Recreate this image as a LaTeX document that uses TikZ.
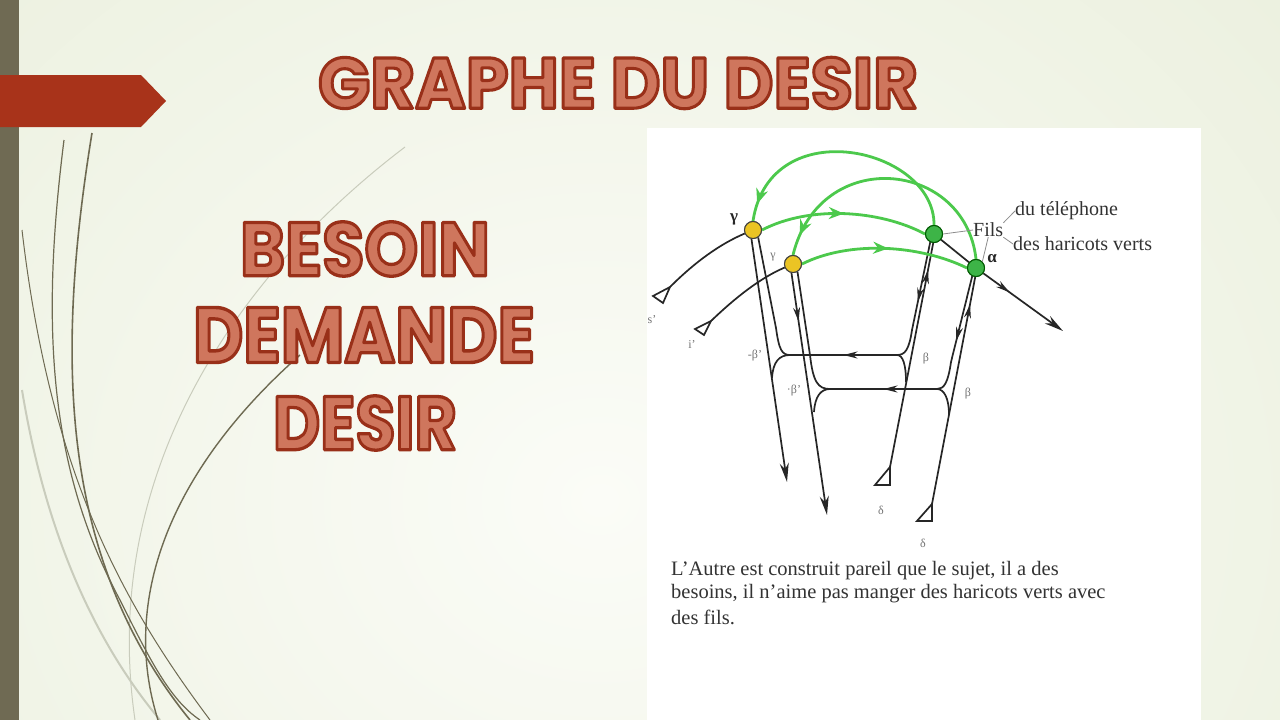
\documentclass[tikz,border=0pt]{standalone}
\usepackage{fontspec}
\setmainfont{Liberation Serif}
\newfontfamily\titlefont{Poppins}
\usepackage{graphicx}
\usetikzlibrary{arrows.meta,decorations.markings,calc}
\definecolor{bgin}{HTML}{FBFCF7}
\definecolor{bgout}{HTML}{E2E9D0}
\definecolor{barc}{HTML}{6F6A53}
\definecolor{redarrow}{HTML}{A8331A}
\definecolor{tfill}{HTML}{CF765D}
\definecolor{grnc}{HTML}{4CC94C}
\definecolor{ylw}{HTML}{EBC424}
\definecolor{gnodec}{HTML}{3DB447}
\definecolor{swdark}{HTML}{6E6A52}
\definecolor{swlight}{HTML}{C9CCBC}
\newcommand\ttltext[3]{\resizebox{#1}{#2}{\fontsize{60}{60}\titlefont\bfseries\color{tfill}\special{pdf:literal direct 2 Tr 2.6 w 1 j 0.60 0.19 0.10 RG}#3\special{pdf:literal direct 0 Tr}}}
\tikzset{
  blk/.style={draw=black!85, line width=1.7pt},
  grn/.style={draw=grnc, line width=2.8pt},
  gry/.style={draw=black!45, line width=0.8pt},
  ynode/.style={circle, fill=ylw, draw=black!75, line width=1pt, minimum size=17pt, inner sep=0pt},
  gnode/.style={circle, fill=gnodec, draw=green!35!black, line width=1pt, minimum size=17pt, inner sep=0pt},
  tipend/.style={-{Stealth[length=19pt,width=9pt]}},
  midarr/.style={postaction={decorate},decoration={markings,mark=at position #1 with {\arrow{Stealth[length=14pt,width=7pt]}}}},
  midrev/.style={postaction={decorate},decoration={markings,mark=at position #1 with {\arrowreversed{Stealth[length=14pt,width=7pt]}}}},
  garr/.style={postaction={decorate},decoration={markings,mark=at position #1 with {\arrow{Stealth[length=15pt,width=12pt]}}}},
  lbl/.style={font=\fontsize{12}{12}\selectfont, text=black!55, inner sep=0pt},
  glbl/.style={font=\fontsize{17}{17}\selectfont\bfseries, text=black!85, inner sep=0pt},
  side/.style={font=\fontsize{20}{20}\selectfont, text=black!80, inner sep=0pt, anchor=west},
  capt/.style={font=\fontsize{20.5}{20.5}\selectfont, text=black!80, inner sep=0pt, anchor=west},
  ttl/.style={inner sep=0pt}
}
\begin{document}
\begin{tikzpicture}[x=1pt,y=-1pt]
\useasboundingbox (0,0) rectangle (1280,720);
\begin{scope}
\clip (0,0) rectangle (1280,720);
\shade[inner color=bgin, outer color=bgout] (-900,-800) rectangle (2100,1800);
% swoosh curves
\draw[swlight, line width=1pt] (405,147) .. controls (230,280) and (100,480) .. (135,720);
\draw[swlight, line width=2pt] (22,390) .. controls (50,560) and (110,660) .. (160,720);
\draw[swdark, line width=1.6pt] (92,133) .. controls (55,360) and (60,560) .. (190,720);
\draw[swdark, line width=1.2pt] (64,140) .. controls (40,330) and (50,470) .. (120,600) .. controls (150,660) and (170,700) .. (200,720);
\draw[swdark, line width=1.4pt] (300,355) .. controls (170,470) and (120,600) .. (158,720);
\draw[swdark, line width=1pt] (22,230) .. controls (50,470) and (120,600) .. (210,720);
% left bar and red arrow
\fill[barc] (0,0) rectangle (19,720);
\fill[redarrow] (0,75) -- (141,75) -- (166,101) -- (141,127) -- (0,127) -- cycle;
% white panel
\fill[white] (647,128) rectangle (1201,720);
\end{scope}

% titles
\node[ttl] (title) at (618,83) {\ttltext{600pt}{51pt}{GRAPHE DU DESIR}};
\node[ttl] (besoin) at (365,249) {\ttltext{250pt}{54pt}{BESOIN}};
\node[ttl] (demande) at (364,335) {\ttltext{342pt}{55pt}{DEMANDE}};
\node[ttl] (desir) at (365,423) {\ttltext{184pt}{54pt}{DESIR}};

% coordinates
\coordinate (la) at (787,482);
\coordinate (lb) at (827,515);
\coordinate (d1) at (890,467);
\coordinate (d2) at (932,504);
\coordinate (s1) at (670,287);
\coordinate (i1) at (711,321);
\coordinate (aend) at (1063,331);
\coordinate (ul) at (790,355);
\coordinate (ur) at (897,355);
\coordinate (ll) at (830,389);
\coordinate (lr) at (937,389);

% main nodes
\node[ynode] (y1) at (753,230) {};
\node[ynode] (y2) at (793,264) {};
\node[gnode] (g1) at (934,234) {};
\node[gnode] (g2) at (976,268) {};

% black structure
\draw[blk] (s1) .. controls (695,262) and (720,244) .. (y1);
\draw[blk] (i1) .. controls (735,298) and (760,278) .. (y2);
\draw[blk, tipend] (y1.-100) -- (la);
\draw[blk] (y1.-55) -- (776,328) .. controls (779,350) and (782,355) .. (ul);
\draw[blk, midarr=0.5] (ur) -- (ul);
\draw[blk] (ul) .. controls (779,355) and (773,362) .. (772,378);
\draw[blk, tipend, midarr=0.2] (y2.-100) -- (lb);
\draw[blk] (y2.-60) -- (810,355) .. controls (813,382) and (818,389) .. (ll);
\draw[blk, midarr=0.5] (lr) -- (ll);
\draw[blk] (ll) .. controls (821,389) and (815,396) .. (814,412);
\draw[blk, midarr=0.5] (g1.-115) -- (912,330) .. controls (909,350) and (905,355) .. (ur);
\draw[blk] (ur) .. controls (903,355) and (906,365) .. (906,382);
\draw[blk, midrev=0.12] (g1.-95) -- (d1);
\draw[blk] (d1) -- (875,485) -- (890,485) -- cycle;
\draw[blk, midarr=0.55] (g2.-115) -- (951,362) .. controls (948,383) and (944,389) .. (lr);
\draw[blk] (lr) .. controls (944,389) and (949,398) .. (949,415);
\draw[blk, midrev=0.12] (g2.-95) -- (d2);
\draw[blk] (d2) -- (917,521) -- (932,521) -- cycle;
\draw[blk] (s1) -- (653,296) -- (663,303) -- cycle;
\draw[blk] (i1) -- (695,329) -- (704,335) -- cycle;
\draw[blk] (g1) -- (g2);
\draw[blk, tipend, midarr=0.33] (g2) -- (aend);

% green arcs
\draw[grn, garr=0.93] (g1.north) .. controls (935,148) and (770,110) .. (y1.north);
\draw[grn, garr=0.92] (g2.north) .. controls (965,160) and (820,145) .. (y2.north);
\draw[grn, garr=0.5] (y1.east) .. controls (810,205) and (880,210) .. (g1.west);
\draw[grn, garr=0.52] (y2.east) .. controls (850,240) and (920,245) .. (g2.west);
\node[ynode] at (y1) {};
\node[ynode] at (y2) {};
\node[gnode] at (g1) {};
\node[gnode] at (g2) {};

% side labels
\node[side] (fils) at (973,230) {Fils};
\node[side] (tel) at (1015,211) {du téléphone};
\node[side] (har) at (1013,244) {des haricots verts};
\draw[gry] (g1.east) -- (fils.west);
\draw[gry] (fils.north east) -- (tel.west);
\draw[gry] (fils.south east) -- (har.west);
\draw[gry] (fils.south) -- (g2.north east);

% greek labels
\node[glbl] (lgam) at (734,219) {γ};
\node[lbl] (lgam2) at (773,257) {γ};
\node[glbl] (lalp) at (992,259) {α};
\node[lbl] (lb1) at (755,356) {-β'};
\node[lbl] (lb2) at (794,391) {·β'};
\node[lbl] (lb3) at (926,359) {β};
\node[lbl] (lb4) at (968,394) {β};
\node[lbl] (ls) at (652,320) {s'};
\node[lbl] (li) at (692,345) {i'};
\node[lbl] (ld1) at (881,510) {δ};
\node[lbl] (ld2) at (923,543) {δ};

% caption
\node[capt] (c1) at (671,571) {L'Autre est construit pareil que le sujet, il a des};
\node[capt] (c2) at (671,594) {besoins, il n'aime pas manger des haricots verts avec};
\node[capt] (c3) at (671,617) {des fils.};
\end{tikzpicture}
\end{document}
